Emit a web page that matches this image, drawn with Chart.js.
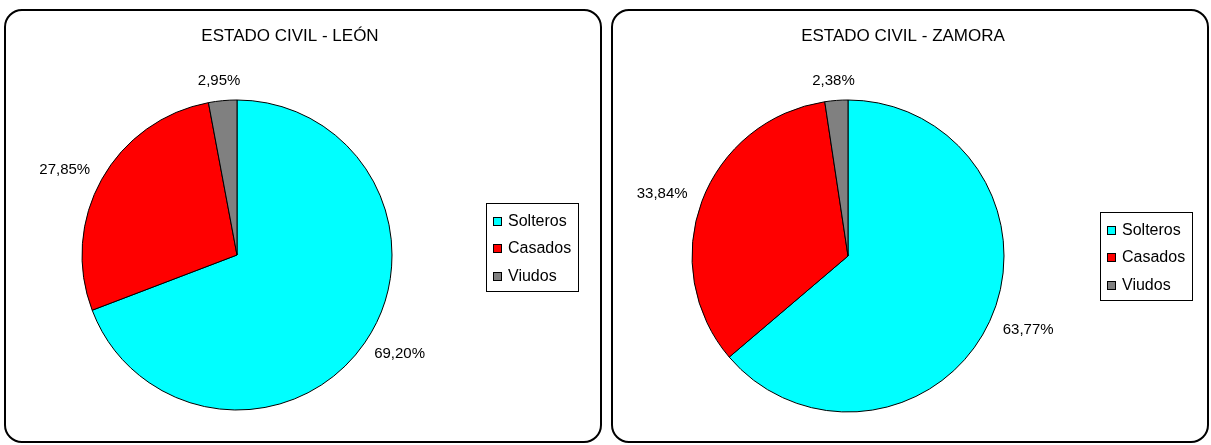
<!DOCTYPE html>
<html>
<head>
<meta charset="utf-8">
<script src="https://cdn.jsdelivr.net/npm/chart.js@4"></script>
<style>
  body { margin: 0; background: #fff; }
  .panel {
    position: absolute;
    top: 9px;
    width: 594px;
    height: 430px;
    border: 2px solid #000;
    border-radius: 18px;
    overflow: hidden;
    background: #fff;
  }
  canvas { display: block; }
</style>
</head>
<body>
<div class="panel" style="left:4px"><canvas id="leonChart" width="594" height="430"></canvas></div>
<div class="panel" style="left:611px"><canvas id="zamoraChart" width="594" height="430"></canvas></div>

<script>
// Datos del gráfico
const categorias = ["Solteros", "Casados", "Viudos"];
const datosLeon = [69.2, 27.85, 2.95];
const datosZamora = [63.77, 33.84, 2.38];
const colores = ["#00FFFF", "#FF0000", "#808080"];

const FUENTE = "'Liberation Sans', Arial, sans-serif";

// formato español: 69,20%
function formatoPct(v) {
  return v.toFixed(2).replace(".", ",") + "%";
}

// Plugin: título, etiquetas de porcentaje y leyenda con recuadro
const estiloExcel = {
  id: "estiloExcel",
  afterDatasetsDraw(chart, args, opts) {
    const ctx = chart.ctx;
    const meta = chart.getDatasetMeta(0);
    const valores = chart.data.datasets[0].data;
    ctx.save();
    ctx.fillStyle = "#000";

    // etiquetas de porcentaje fuera de cada sector
    ctx.font = "15px " + FUENTE;
    ctx.textAlign = "center";
    ctx.textBaseline = "middle";
    meta.data.forEach((arc, i) => {
      const p = arc.getProps(["x", "y", "startAngle", "endAngle", "outerRadius"], true);
      const medio = (p.startAngle + p.endAngle) / 2;
      const dx = Math.cos(medio);
      const dy = Math.sin(medio);
      const texto = formatoPct(valores[i]);
      const w = ctx.measureText(texto).width;
      const d = p.outerRadius + 13;
      ctx.fillText(texto, p.x + dx * (d + w / 2 + 4), p.y + dy * (d + 7));
    });

    // título
    ctx.font = "17px " + FUENTE;
    ctx.textAlign = "center";
    ctx.fillText(opts.titulo, opts.tituloX, 25);

    // leyenda
    ctx.font = "16px " + FUENTE;
    const lx = opts.leyendaX;
    const ly = opts.leyendaY;
    ctx.strokeStyle = "#000";
    ctx.lineWidth = 1;
    ctx.strokeRect(lx + 0.5, ly + 0.5, 92, 88);
    ctx.textAlign = "left";
    const filas = [18, 45, 73];
    categorias.forEach((cat, i) => {
      const cy = ly + filas[i];
      ctx.fillStyle = colores[i];
      ctx.fillRect(lx + 7, cy - 4, 9, 9);
      ctx.strokeRect(lx + 7.5, cy - 3.5, 8, 8);
      ctx.fillStyle = "#000";
      ctx.fillText(cat, lx + 22, cy + 1);
    });
    ctx.restore();
  },
};

function crearTarta(id, datos, padding, extra) {
  const ctx = document.getElementById(id).getContext("2d");
  return new Chart(ctx, {
    type: "pie",
    data: {
      labels: categorias,
      datasets: [
        {
          data: datos,
          backgroundColor: colores,
          borderColor: "#000",
          borderWidth: 1,
          hoverOffset: 0,
        },
      ],
    },
    options: {
      responsive: false,
      animation: false,
      layout: { padding: padding },
      plugins: {
        legend: { display: false },
        tooltip: { enabled: false },
        estiloExcel: extra,
      },
    },
    plugins: [estiloExcel],
  });
}

crearTarta("leonChart", datosLeon,
  { left: 75.5, top: 88.5, right: 207.5, bottom: 30.5 },
  { titulo: "ESTADO CIVIL - LEÓN", tituloX: 284, leyendaX: 480, leyendaY: 192 });

crearTarta("zamoraChart", datosZamora,
  { left: 78.5, top: 88.5, right: 202.5, bottom: 28.5 },
  { titulo: "ESTADO CIVIL - ZAMORA", tituloX: 290, leyendaX: 487, leyendaY: 201 });
</script>
</body>
</html>
